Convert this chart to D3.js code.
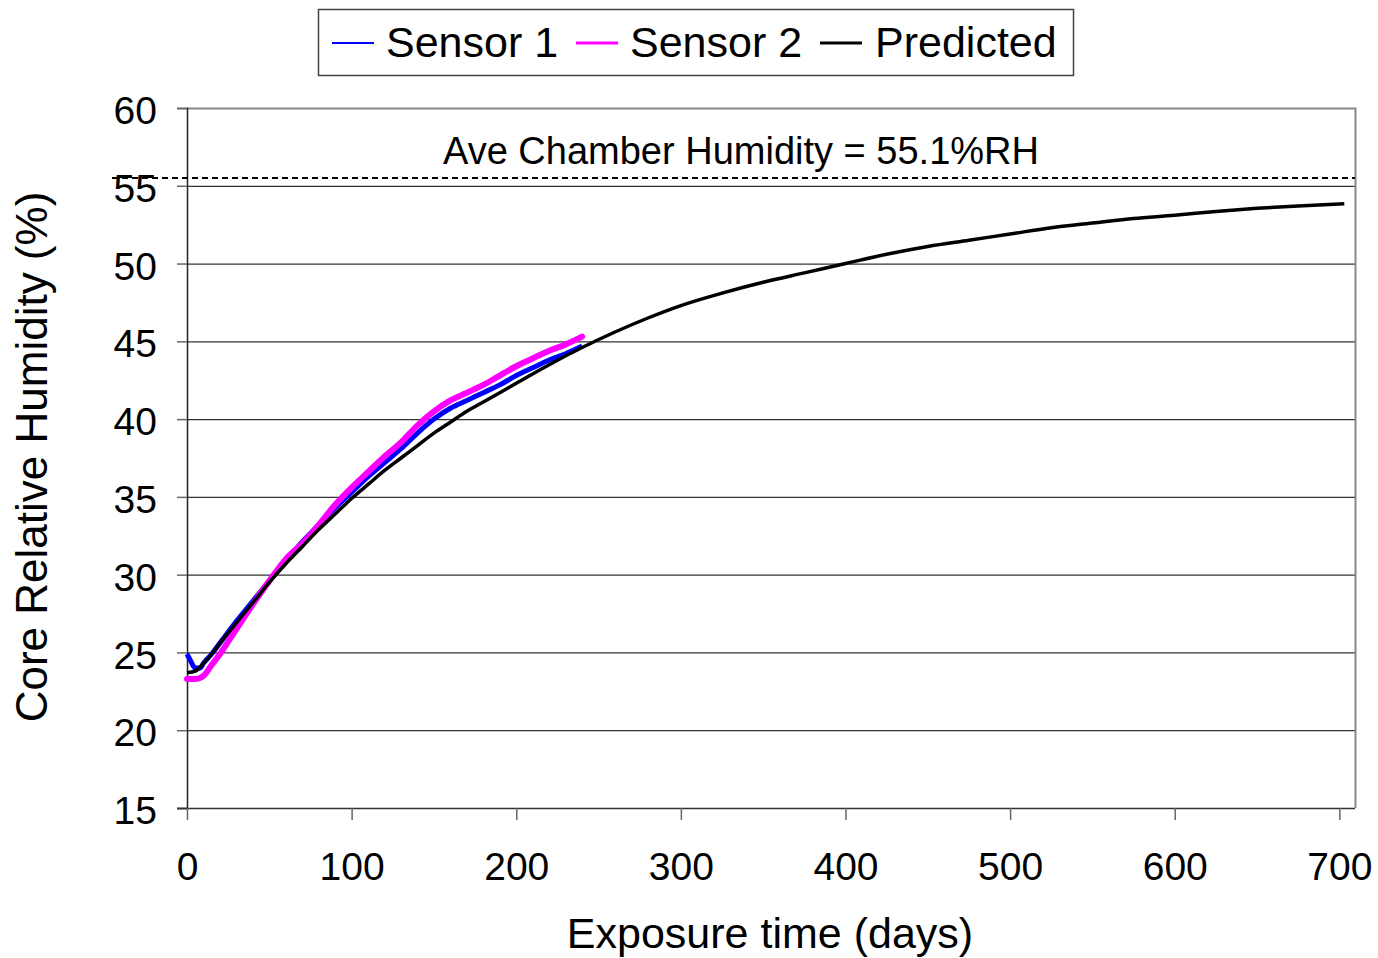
<!DOCTYPE html>
<html>
<head>
<meta charset="utf-8">
<script src="https://cdn.jsdelivr.net/npm/d3@7"></script>
<style>
  body { margin: 0; background: #fff; }
  svg { font-family: "Liberation Sans", Arial, sans-serif; }
</style>
</head>
<body>
<div id="chart"></div>
<script>
// ---- data ----
var predictedDays = [0, 5, 10, 15, 20, 30, 40, 50, 60, 70, 80, 90, 100, 110, 120, 130, 140, 150, 160, 170, 180, 190, 200,
                     220, 240, 260, 280, 300, 325, 350, 375, 400, 425, 450, 475, 500, 525, 550, 575, 600, 625, 650, 675, 703];
var predictedRH = [23.7, 23.8, 24.3, 24.9, 25.6, 26.9, 28.2, 29.5, 30.7, 31.8, 32.9, 33.9, 34.9, 35.8, 36.7, 37.5, 38.3, 39.1, 39.8, 40.5, 41.1, 41.7, 42.3,
                   43.5, 44.6, 45.6, 46.5, 47.3, 48.1, 48.8, 49.4, 50.0, 50.6, 51.1, 51.5, 51.9, 52.3, 52.6, 52.9, 53.1, 53.35, 53.55, 53.7, 53.85];

var sensor1Days = [0, 2, 5, 8, 10, 15, 20, 30, 40, 50, 60, 70, 80, 90, 100, 110, 120, 130, 140, 150, 160, 170, 180, 190, 200, 210, 220, 230, 240];
var sensor1RH = [24.9, 24.5, 24.0, 24.0, 24.3, 24.9, 25.6, 27.0, 28.3, 29.6, 30.9, 32.1, 33.2, 34.3, 35.3, 36.3, 37.2, 38.1, 39.1, 40.0, 40.7, 41.2, 41.7, 42.2, 42.8, 43.3, 43.8, 44.2, 44.7];

var sensor2Days = [0, 5, 10, 15, 20, 25, 30, 40, 50, 60, 70, 80, 90, 100, 110, 120, 130, 140, 150, 160, 170, 180, 190, 200, 210, 220, 230, 240];
var sensor2RH = [23.3, 23.3, 23.5, 24.2, 24.9, 25.7, 26.5, 28.1, 29.6, 31.0, 32.0, 33.2, 34.5, 35.6, 36.6, 37.6, 38.5, 39.6, 40.5, 41.2, 41.7, 42.2, 42.8, 43.4, 43.9, 44.4, 44.8, 45.3];

var chamberRH = 55.5; // dashed line position as drawn
var chamberLabel = "Ave Chamber Humidity = 55.1%RH";

var xTicks = [0, 100, 200, 300, 400, 500, 600, 700];
var yTicks = [15, 20, 25, 30, 35, 40, 45, 50, 55, 60];

var seriesNames = ["Sensor 1", "Sensor 2", "Predicted"];
var seriesColors = ["#0000ff", "#ff00ff", "#000000"];

// ---- layout ----
var W = 1378, H = 958;
var margin = {top: 108, right: 23, bottom: 150, left: 187};
var width = W - margin.left - margin.right,
    height = H - margin.top - margin.bottom;

var svg = d3.select("#chart").append("svg").attr("width", W).attr("height", H);
var g = svg.append("g").attr("transform", "translate(" + margin.left + "," + margin.top + ")");

var x = d3.scaleLinear().domain([0, 709.5]).range([0, width]);
var y = d3.scaleLinear().domain([15, 60]).range([height, 0]);

// gridlines
g.selectAll(".grid").data(yTicks.filter(function(d) { return d > 15 && d < 60; }))
  .enter().append("line")
  .attr("x1", 0).attr("x2", width)
  .attr("y1", function(d) { return y(d) + 0.5; }).attr("y2", function(d) { return y(d) + 0.5; })
  .attr("stroke", "#333").attr("stroke-width", 1.2);

// top and right border (grey)
g.append("path")
  .attr("d", "M0," + (y(60) + 0.5) + "H" + (width + 0.5) + "V" + height)
  .attr("fill", "none").attr("stroke", "#888").attr("stroke-width", 2);

// y axis
var yAxis = g.append("g")
  .call(d3.axisLeft(y).tickValues(yTicks).tickSize(10).tickPadding(20));
yAxis.select(".domain").attr("stroke", "#222").attr("stroke-width", 1.5);
yAxis.selectAll(".tick line").attr("stroke", "#666").attr("stroke-width", 1.5);
yAxis.selectAll("text").style("font-size", "39px").attr("fill", "#000").attr("dy", "0.4em");

// x axis
var xAxis = g.append("g").attr("transform", "translate(0," + height + ")")
  .call(d3.axisBottom(x).tickValues(xTicks).tickSize(12).tickPadding(32).tickSizeOuter(0));
xAxis.select(".domain").attr("stroke", "#333").attr("stroke-width", 1.5)
  .attr("d", "M-10,0.5H" + width);
xAxis.selectAll(".tick line").attr("stroke", "#666").attr("stroke-width", 1.5);
xAxis.selectAll("text").style("font-size", "39px").attr("fill", "#000");

// dashed chamber humidity line
g.append("line")
  .attr("x1", -75).attr("x2", width)
  .attr("y1", y(chamberRH)).attr("y2", y(chamberRH))
  .attr("stroke", "#000").attr("stroke-width", 1.8).attr("stroke-dasharray", "6,4");

g.append("text")
  .attr("x", 741 - margin.left).attr("y", 164 - margin.top)
  .attr("text-anchor", "middle")
  .style("font-size", "38px")
  .text(chamberLabel);

// lines
var line = d3.line()
  .x(function(d) { return x(d[0]); })
  .y(function(d) { return y(d[1]); })
  .curve(d3.curveMonotoneX);

function pairs(xs, ys) { return xs.map(function(d, i) { return [d, ys[i]]; }); }

g.append("path").datum(pairs(sensor1Days, sensor1RH))
  .attr("d", line).attr("fill", "none").attr("stroke", seriesColors[0]).attr("stroke-width", 5);
g.append("path").datum(pairs(sensor2Days, sensor2RH))
  .attr("d", line).attr("fill", "none").attr("stroke", seriesColors[1]).attr("stroke-width", 6)
  .attr("stroke-linecap", "round");
g.append("path").datum(pairs(predictedDays, predictedRH))
  .attr("d", line).attr("fill", "none").attr("stroke", seriesColors[2]).attr("stroke-width", 3.5);

// axis titles
svg.append("text")
  .attr("transform", "translate(47,457) rotate(-90)")
  .attr("text-anchor", "middle")
  .style("font-size", "44px")
  .text("Core Relative Humidity (%)");

svg.append("text")
  .attr("x", 770).attr("y", 948)
  .attr("text-anchor", "middle")
  .style("font-size", "43px")
  .text("Exposure time (days)");

// legend
var legend = svg.append("g");
legend.append("rect")
  .attr("x", 318.5).attr("y", 9.5).attr("width", 755).attr("height", 66)
  .attr("fill", "#fff").attr("stroke", "#444").attr("stroke-width", 1.5);

var legendLineX = [332, 576, 820];
var legendTextX = [386, 630, 875];
var legendWidths = [2, 3, 3];
seriesNames.forEach(function(name, i) {
  legend.append("line")
    .attr("x1", legendLineX[i]).attr("x2", legendLineX[i] + 42)
    .attr("y1", 43).attr("y2", 43)
    .attr("stroke", seriesColors[i]).attr("stroke-width", legendWidths[i]);
  legend.append("text")
    .attr("x", legendTextX[i]).attr("y", 57)
    .style("font-size", "43px")
    .text(name);
});
</script>
</body>
</html>
